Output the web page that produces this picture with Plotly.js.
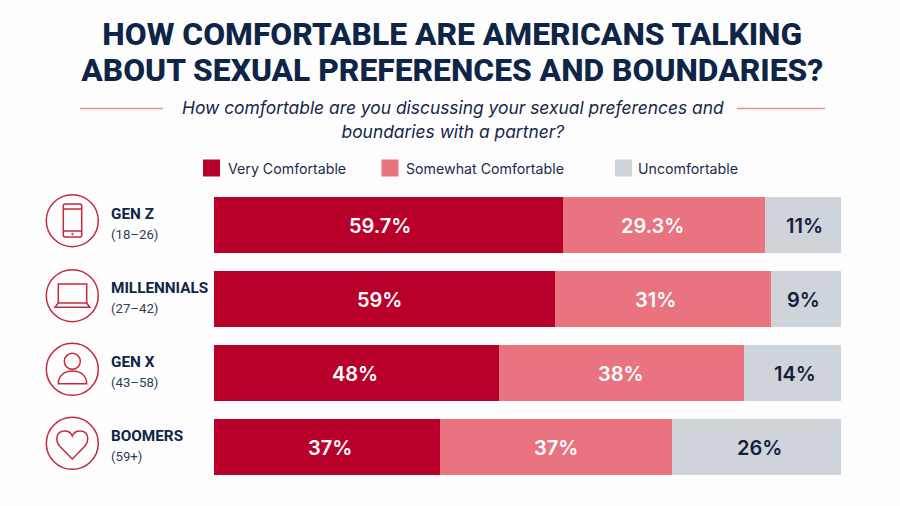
<!DOCTYPE html>
<html>
<head>
<meta charset="utf-8">
<script src="https://cdn.plot.ly/plotly-3.0.1.min.js"></script>
<style>html,body{margin:0;background:#fdfdfd}</style>
</head>
<body>
<div id="graph" style="width:900px;height:506px"></div>
<script>
const generations = ["GEN Z", "MILLENNIALS", "GEN X", "BOOMERS"]
const ages = ["(18–26)", "(27–42)", "(43–58)", "(59+)"]
const seriesNames = ["Very Comfortable", "Somewhat Comfortable", "Uncomfortable"]

// printed labels
const veryLabels = ["59.7%", "59%", "48%", "37%"]
const somewhatLabels = ["29.3%", "31%", "38%", "37%"]
const uncomfortableLabels = ["11%", "9%", "14%", "26%"]

// segment lengths as drawn in the picture (share of the bar), they differ a bit from the labels
const veryDrawn = [55.7, 54.4, 45.5, 36.0]
const somewhatDrawn = [32.2, 34.4, 39.1, 37.0]
const uncomfortableDrawn = [12.1, 11.2, 15.4, 27.0]

const NAVY = "#0f2547"
const INK = "#14213d"
const RED = "#b8002a"
const PINK = "#e9737f"
const GREY = "#cfd3da"
const ICON = "#c22a3e"

// plot area in page pixels
const plot = { left: 214, right: 841, top: 188, bottom: 484 }
const px = v => (v - plot.left) / (plot.right - plot.left)
const py = v => (plot.bottom - v) / (plot.bottom - plot.top)

function barTrace(name, x, fill) {
    return {
        type: "bar",
        orientation: "h",
        name: name,
        y: generations,
        x: x,
        marker: { color: fill, line: { width: 0 } },
        hoverinfo: "name+x",
        showlegend: false
    }
}

// page-pixel path string -> shape path in paper coordinates
function pathShape(d, color, width) {
    let isX = true
    const path = d.replace(/-?\d+(\.\d+)?/g, n => {
        const v = isX ? px(+n) : py(+n)
        isX = !isX
        return v.toFixed(5)
    })
    return { type: "path", xref: "paper", yref: "paper", path: path, line: { color: color || ICON, width: width || 1.5 } }
}

function ring(cx, cy, r, width) {
    return {
        type: "circle", xref: "paper", yref: "paper",
        x0: px(cx - r), x1: px(cx + r), y0: py(cy + r), y1: py(cy - r),
        line: { color: ICON, width: width || 1.5 }
    }
}

function rule(x0, x1) {
    return {
        type: "line", xref: "paper", yref: "paper",
        x0: px(x0), x1: px(x1), y0: py(108.5), y1: py(108.5),
        line: { color: "#f18d92", width: 1.5 }
    }
}

function swatch(x0, fill) {
    return {
        type: "rect", xref: "paper", yref: "paper",
        x0: px(x0), x1: px(x0 + 17), y0: py(176.5), y1: py(159.5),
        fillcolor: fill, line: { width: 0 }
    }
}

const iconShapes = [
    // phone
    ring(72.3, 220.7, 26),
    pathShape("M65,204 L80,204 Q81.7,204 81.7,206 L81.7,235 Q81.7,237 80,237 L65,237 Q63.3,237 63.3,235 L63.3,206 Q63.3,204 65,204 Z"),
    pathShape("M63.5,209 L81.5,209"),
    pathShape("M63.5,231 L81.5,231"),
    ring(72.5, 234, 0.8, 1),
    // laptop
    ring(72.3, 295.7, 26),
    pathShape("M58.3,303 L58.3,284 L86.7,284 L86.7,303"),
    pathShape("M58.3,303 L86.7,303 L89.8,307.3 L55,307.3 Z"),
    // person
    ring(72.3, 369.3, 26),
    ring(72.3, 361.3, 8),
    pathShape("M58.3,383.7 C58.3,376 64,371 72.5,371 C81,371 86.7,376 86.7,383.7 Z"),
    // heart
    ring(72.3, 443.3, 26),
    pathShape("M72.3,459 L60,446.5 C55,441 55.5,431 65,431 C69,431 71,433 72.3,436 C73.5,433 75.7,431 80,431 C89,431 89.5,441 84.5,446.5 Z")
]

const rowAnnotations = generations.flatMap((g, i) => [
    {
        x: px(108.5), xref: "paper", y: g, yref: "y", yshift: 11.5, xanchor: "left", yanchor: "middle",
        text: "<b>" + g + "</b>", showarrow: false,
        font: { family: "Roboto", size: 15.3, color: NAVY }
    },
    {
        x: px(108.5), xref: "paper", y: g, yref: "y", yshift: -9.5, xanchor: "left", yanchor: "middle",
        text: ages[i], showarrow: false,
        font: { family: "Roboto", size: 13.2, color: "#2c3d5c" }
    }
])

// bar labels: centred on their segment, then nudged (px) to where the picture has them
function segmentLabels(start, lengths, labels, nudges, color) {
    return labels.map((t, i) => ({
        x: start[i] + lengths[i] / 2, xref: "x", y: generations[i], yref: "y",
        xshift: nudges[i], yshift: -0.5, text: t, showarrow: false,
        font: { family: "Inter", size: 20, weight: 600, color: color }
    }))
}
const zeros = veryDrawn.map(() => 0)
const afterVery = veryDrawn.slice()
const afterSomewhat = veryDrawn.map((v, i) => v + somewhatDrawn[i])
const labelAnnotations = [
    ...segmentLabels(zeros, veryDrawn, veryLabels, [-8.5, -5, -2, 3], "#ffffff"),
    ...segmentLabels(afterVery, somewhatDrawn, somewhatLabels, [-12, -7, -0.5, 0], "#ffffff"),
    ...segmentLabels(afterSomewhat, uncomfortableDrawn, uncomfortableLabels, [1.5, -2, 2, 3], INK)
]

const legendLabelX = [227, 405, 637]
const legendSwatchX = [203, 381.5, 615]
const legendAnnotations = seriesNames.map((n, i) => ({
    x: px(legendLabelX[i] - 1), xref: "paper", y: py(168), yref: "paper", xanchor: "left", yanchor: "middle",
    text: n, showarrow: false,
    font: { family: "Inter", size: 14.2, color: "#1b2c4c" }
}))

const subtitle = {
    x: px(453), y: py(119), xref: "paper", yref: "paper", yanchor: "middle",
    text: '<span style="font-size:17.4px">How comfortable are you discussing your sexual preferences and<br>boundaries with a partner?</span>',
    showarrow: false,
    font: { family: "Inter", size: 18.5, style: "italic", color: "#16264a" }
}

const layout = {
    width: 900,
    height: 506,
    paper_bgcolor: "#fdfdfd",
    plot_bgcolor: "#fdfdfd",
    margin: { l: plot.left, r: 900 - plot.right, t: plot.top, b: 506 - plot.bottom, pad: 0 },
    barmode: "stack",
    bargap: 0.25,
    showlegend: false,
    title: {
        text: '<span style="font-size:31.8px">HOW COMFORTABLE ARE AMERICANS TALKING<br>ABOUT SEXUAL PREFERENCES AND BOUNDARIES?</span>',
        x: 0.5025, xanchor: "center", y: 1 - 44.5 / 506, yanchor: "top",
        font: { family: "Roboto", size: 27.7, weight: 800, color: NAVY }
    },
    xaxis: { range: [0, 100], visible: false, fixedrange: true },
    yaxis: { autorange: "reversed", visible: false, fixedrange: true },
    shapes: [rule(80, 163), rule(737, 825)]
        .concat([swatch(legendSwatchX[0], RED), swatch(legendSwatchX[1], PINK), swatch(legendSwatchX[2], GREY)])
        .concat(iconShapes),
    annotations: [subtitle].concat(legendAnnotations, rowAnnotations, labelAnnotations)
}

const traces = [
    barTrace(seriesNames[0], veryDrawn, RED),
    barTrace(seriesNames[1], somewhatDrawn, PINK),
    barTrace(seriesNames[2], uncomfortableDrawn, GREY)
]

Plotly.newPlot("graph", traces, layout, { displayModeBar: false })
</script>
</body>
</html>
